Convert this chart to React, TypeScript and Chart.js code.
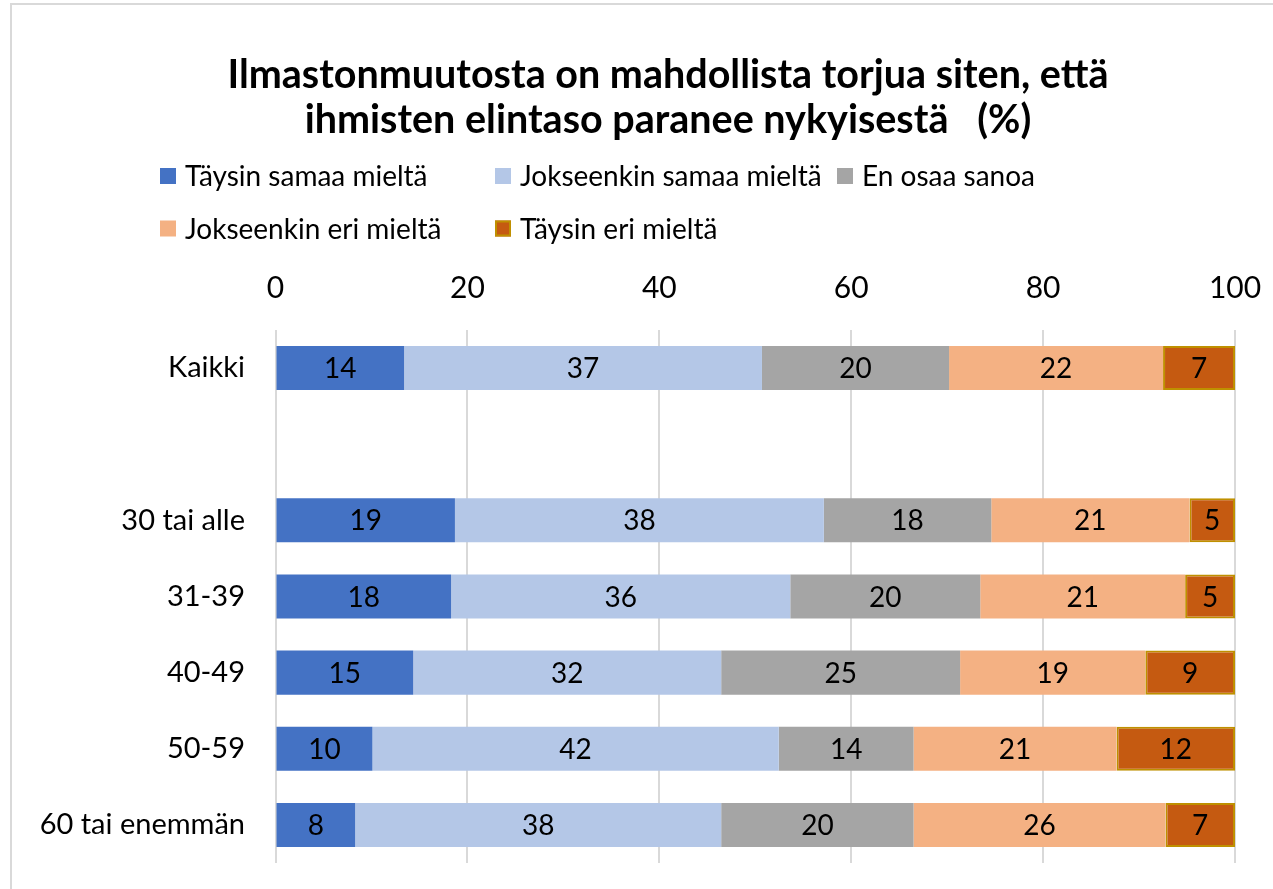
import React, { useEffect, useRef } from 'react';
import { Chart, registerables } from 'chart.js';

Chart.register(...registerables);

// ---- data ----
const titleLines = ['Ilmastonmuutosta on mahdollista torjua siten, että', 'ihmisten elintaso paranee nykyisestä   (%)'];
const categories = ['Kaikki', '', '30 tai alle', '31-39', '40-49', '50-59', '60 tai enemmän'];
const seriesNames = ['Täysin samaa mieltä', 'Jokseenkin samaa mieltä', 'En osaa sanoa', 'Jokseenkin eri mieltä', 'Täysin eri mieltä'];

// bar lengths (share of 100)
const taysinSamaa = [13.4, null, 18.7, 18.3, 14.35, 10.1, 8.3];
const jokseenkinSamaa = [37.3, null, 38.45, 35.35, 32.1, 42.35, 38.15];
const enOsaa = [19.5, null, 17.45, 19.8, 24.9, 14.05, 20.05];
const jokseenkinEri = [22.3, null, 20.65, 21.35, 19.3, 21.15, 26.25];
const taysinEri = [7.5, null, 4.75, 5.2, 9.35, 12.35, 7.25];

// numbers printed on the bars
const taysinSamaaLabels = [14, null, 19, 18, 15, 10, 8];
const jokseenkinSamaaLabels = [37, null, 38, 36, 32, 42, 38];
const enOsaaLabels = [20, null, 18, 20, 25, 14, 20];
const jokseenkinEriLabels = [22, null, 21, 21, 19, 21, 26];
const taysinEriLabels = [7, null, 5, 5, 9, 12, 7];

const xMin = 0;
const xMax = 100;
const xStep = 20;

// ---- styles ----
const FONT = 'Lato, "Open Sans", sans-serif';
const colors = ['#4472C4', '#B4C7E7', '#A5A5A5', '#F4B183', '#C55A11'];
const borderColors = ['#4472C4', '#B4C7E7', '#A5A5A5', '#F4B183', '#BF9000'];
const borderWidths = [0, 0, 0, 0, 2];

const seriesValues = [taysinSamaa, jokseenkinSamaa, enOsaa, jokseenkinEri, taysinEri];
const seriesLabels = [taysinSamaaLabels, jokseenkinSamaaLabels, enOsaaLabels, jokseenkinEriLabels, taysinEriLabels];

// legend layout (canvas coordinates)
const legendCols = [150, 485, 827];
const legendRows = [173, 225.5];
const legendOrder = [
  [0, 0, 0],
  [1, 1, 0],
  [2, 2, 0],
  [3, 0, 1],
  [4, 1, 1],
];

const dataLabelPlugin = {
  id: 'dataLabels',
  afterDatasetsDraw(chart: any) {
    const ctx = chart.ctx;
    ctx.save();
    ctx.font = `28px ${FONT}`;
    ctx.fillStyle = '#000000';
    ctx.textAlign = 'center';
    ctx.textBaseline = 'middle';
    chart.data.datasets.forEach((ds: any, i: number) => {
      const meta = chart.getDatasetMeta(i);
      meta.data.forEach((bar: any, j: number) => {
        const v = seriesLabels[i][j];
        if (v == null || ds.data[j] == null) return;
        const p = bar.getProps(['x', 'y', 'base'], true);
        ctx.fillText(String(v), (p.x + p.base) / 2, p.y + 1);
      });
    });
    ctx.restore();
  },
};

const legendPlugin = {
  id: 'gridLegend',
  afterDraw(chart: any) {
    const ctx = chart.ctx;
    ctx.save();
    ctx.font = `28px ${FONT}`;
    ctx.textAlign = 'left';
    ctx.textBaseline = 'middle';
    legendOrder.forEach(([si, col, row]) => {
      const x = legendCols[col];
      const y = legendRows[row];
      ctx.fillStyle = colors[si];
      ctx.fillRect(x, y - 8, 16, 16);
      if (borderWidths[si] > 0) {
        ctx.strokeStyle = borderColors[si];
        ctx.lineWidth = 2;
        ctx.strokeRect(x + 1, y - 7, 14, 14);
      }
      ctx.fillStyle = '#000000';
      ctx.fillText(seriesNames[si], x + 25, y + 1);
    });
    ctx.restore();
  },
};

export default function App() {
  const canvasRef = useRef<HTMLCanvasElement | null>(null);

  useEffect(() => {
    if (!canvasRef.current) return;
    const chart = new Chart(canvasRef.current, {
      type: 'bar',
      data: {
        labels: categories,
        datasets: seriesValues.map((vals, i) => ({
          label: seriesNames[i],
          data: vals,
          backgroundColor: colors[i],
          borderColor: borderColors[i],
          borderWidth: borderWidths[i],
          borderSkipped: false,
          barPercentage: 0.578,
          categoryPercentage: 1,
        })),
      },
      options: {
        indexAxis: 'y',
        animation: false,
        responsive: false,
        devicePixelRatio: 1,
        layout: { padding: { left: 0, right: 0, top: 0, bottom: 26 } },
        plugins: {
          legend: { display: false },
          tooltip: { enabled: false },
          title: {
            display: true,
            text: titleLines,
            color: '#000000',
            font: { family: FONT, size: 39.5, weight: 'bold', lineHeight: 1.154 },
            padding: { top: 49.2, bottom: 109.6 },
          },
        },
        scales: {
          x: {
            type: 'linear',
            position: 'top',
            stacked: true,
            min: xMin,
            max: xMax,
            border: { display: false },
            grid: { color: '#D9D9D9', lineWidth: 2, drawTicks: false },
            ticks: {
              stepSize: xStep,
              padding: 24,
              color: '#000000',
              font: { family: FONT, size: 30 },
            },
            afterFit(scale: any) {
              scale.height = 77;
              scale.paddingLeft = 0;
              scale.paddingRight = 0;
            },
          },
          y: {
            type: 'category',
            stacked: true,
            border: { display: false },
            grid: { display: false, drawTicks: false },
            ticks: {
              padding: 30.5,
              color: '#000000',
              font: { family: FONT, size: 29 },
            },
            afterFit(scale: any) {
              scale.width = 265.5;
              scale.paddingTop = 0;
              scale.paddingBottom = 0;
            },
          },
          yRight: {
            type: 'category',
            position: 'right',
            border: { display: false },
            grid: { display: false, drawTicks: false },
            ticks: { display: false },
            afterFit(scale: any) {
              scale.width = 91;
              scale.paddingTop = 0;
              scale.paddingBottom = 0;
            },
          },
        },
      },
      plugins: [dataLabelPlugin, legendPlugin],
    } as any);
    return () => chart.destroy();
  }, []);

  return (
    <div style={{ position: 'absolute', left: 0, top: 0, width: 1273, height: 889, overflow: 'hidden', background: '#ffffff' }}>
      <div
        style={{
          position: 'absolute',
          left: 10,
          top: 3,
          width: 1400,
          height: 1000,
          border: '2px solid #D9D9D9',
          boxSizing: 'border-box',
        }}
      />
      <canvas
        ref={canvasRef}
        width={1316}
        height={886}
        style={{ position: 'absolute', left: 10, top: 3, width: 1316, height: 886 }}
      />
    </div>
  );
}
